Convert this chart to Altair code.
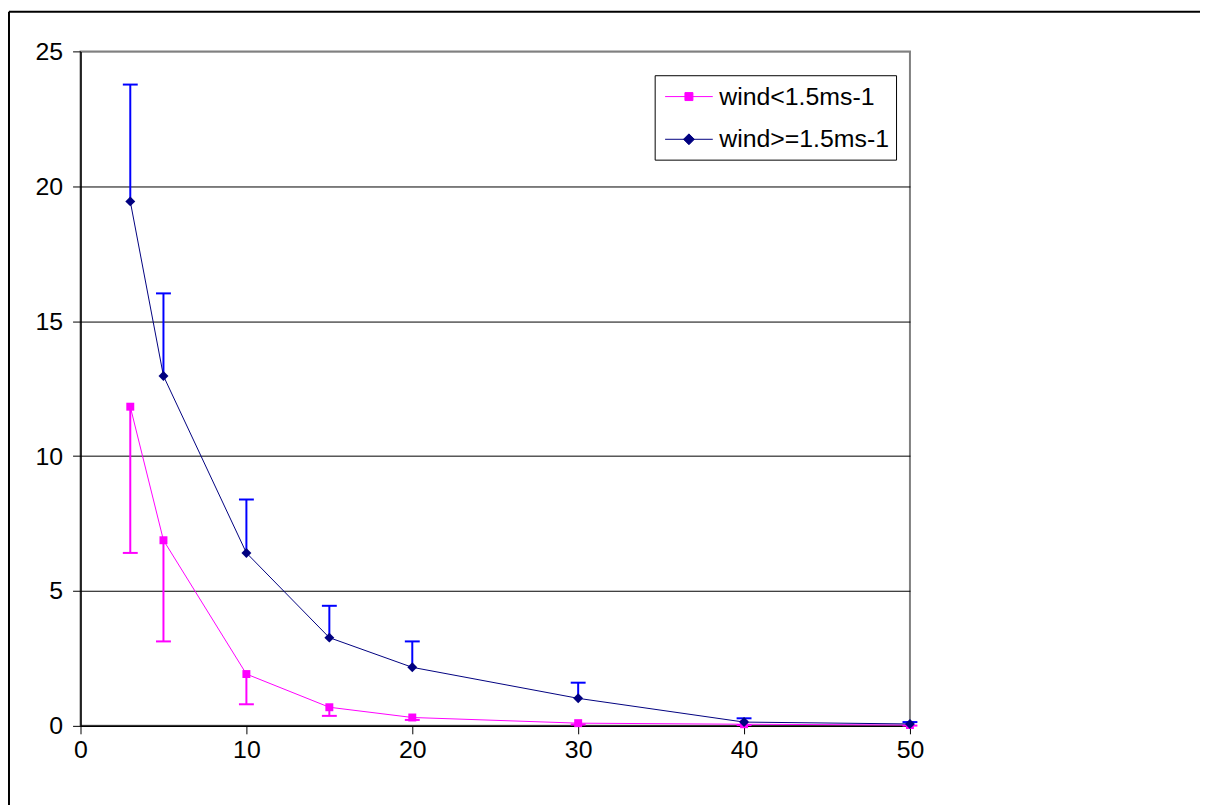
import altair as alt
import pandas as pd

# ---- data ----
distance = [3, 5, 10, 15, 20, 30, 40, 50]
calm_mean = [11.83, 6.88, 1.92, 0.69, 0.31, 0.10, 0.06, 0.03]
calm_err = [5.42, 3.75, 1.12, 0.32, 0.09, 0.05, 0.03, 0.02]
windy_mean = [19.44, 12.97, 6.41, 3.27, 2.17, 1.02, 0.14, 0.07]
windy_err = [4.33, 3.06, 1.98, 1.18, 0.96, 0.58, 0.14, 0.07]
series_names = ["wind<1.5ms-1", "wind>=1.5ms-1"]
x_ticks = [0, 10, 20, 30, 40, 50]
y_ticks = [0, 5, 10, 15, 20, 25]

FONT = "Liberation Sans"

calm = pd.DataFrame({
    "x": distance, "y": calm_mean,
    "end": [m - e for m, e in zip(calm_mean, calm_err)],
    "series": series_names[0],
})
windy = pd.DataFrame({
    "x": distance, "y": windy_mean,
    "end": [m + e for m, e in zip(windy_mean, windy_err)],
    "series": series_names[1],
})
both = pd.concat([calm, windy], ignore_index=True)

X = alt.X("x:Q", scale=alt.Scale(domain=[0, 50], nice=False, zero=False),
          axis=alt.Axis(values=x_ticks, title=None, grid=False, labelFlush=False))
Y = alt.Y("y:Q", scale=alt.Scale(domain=[0, 25], nice=False),
          axis=alt.Axis(values=y_ticks, title=None, grid=True, labelFlush=False,
                        gridColor={"condition": {"test": "datum.value === 25", "value": "#808080"},
                                   "value": "black"}))


def series_layers(df, line_color, err_color, shape, size):
    line = alt.Chart(df).mark_line(color=line_color, strokeWidth=1).encode(x=X, y=Y)
    err = alt.Chart(df).mark_rule(color=err_color, strokeWidth=2).encode(
        x=X, y=Y, y2=alt.Y2("end:Q"))
    cap = alt.Chart(df).mark_tick(orient="horizontal", color=err_color, size=15,
                                  thickness=2, opacity=1).encode(
        x=X, y=alt.Y("end:Q"))
    pts = alt.Chart(df).mark_point(filled=True, shape=shape, size=size,
                                   color=line_color, opacity=1, strokeWidth=0).encode(x=X, y=Y)
    return [err, cap, line, pts]


# legend symbols: line through a marker (custom paths, scale = sqrt(size)/2 = 14 px)
sq_path = "M-1.714,0H1.714M-0.286,-0.286H0.286V0.286H-0.286Z"
di_path = "M-1.714,0H1.714M0,-0.39L0.39,0L0,0.39L-0.39,0Z"
legend_colors = ["#FF00FF", "#000080"]
leg = alt.Legend(title=None, orient="none", legendX=578, legendY=24,
                 strokeColor="black", fillColor="white", padding=7,
                 labelFont=FONT, labelFontSize=25, labelColor="black",
                 labelOffset=16, symbolOffset=13, symbolSize=784, symbolStrokeWidth=1,
                 symbolOpacity=1, rowPadding=15, labelLimit=400)
legend_layer = alt.Chart(both).mark_point(opacity=0, strokeWidth=1, size=784).encode(
    x=X, y=Y,
    fill=alt.Fill("series:N", scale=alt.Scale(domain=series_names, range=legend_colors), legend=leg),
    stroke=alt.Stroke("series:N", scale=alt.Scale(domain=series_names, range=legend_colors), legend=leg),
    shape=alt.Shape("series:N", scale=alt.Scale(domain=series_names, range=[sq_path, di_path]), legend=leg),
)

# outer chart frame
frame_df = pd.DataFrame({"k": [0]})
frame_left = alt.Chart(frame_df).mark_rule(color="black", strokeWidth=2).encode(
    x=alt.value(-72), y=alt.value(-40), y2=alt.value(760))
frame_top = alt.Chart(frame_df).mark_rule(color="black", strokeWidth=2).encode(
    x=alt.value(-72), x2=alt.value(1130), y=alt.value(-40))

layers = (series_layers(calm, "#FF00FF", "#FF00FF", "square", 64)
          + series_layers(windy, "#000080", "#0000FF", "diamond", 100)
          + [legend_layer, frame_left, frame_top])

chart = alt.layer(*layers).properties(
    width=835, height=679,
    autosize=alt.AutoSizeParams(type="none"),
    padding={"left": 73, "top": 41, "right": 292, "bottom": 77},
    background="white",
).configure_view(
    stroke="#808080", strokeWidth=2
).configure_axis(
    labelFont=FONT, labelFontSize=25, labelColor="black",
    domainColor="black", domainWidth=1.5, tickColor="black", tickSize=8, tickWidth=1,
    gridWidth=1,
).configure_axisY(
    labelPadding=10
).configure_axisX(
    labelPadding=4
)

chart.save("out.html", embed_options={"renderer": "svg", "actions": False})
